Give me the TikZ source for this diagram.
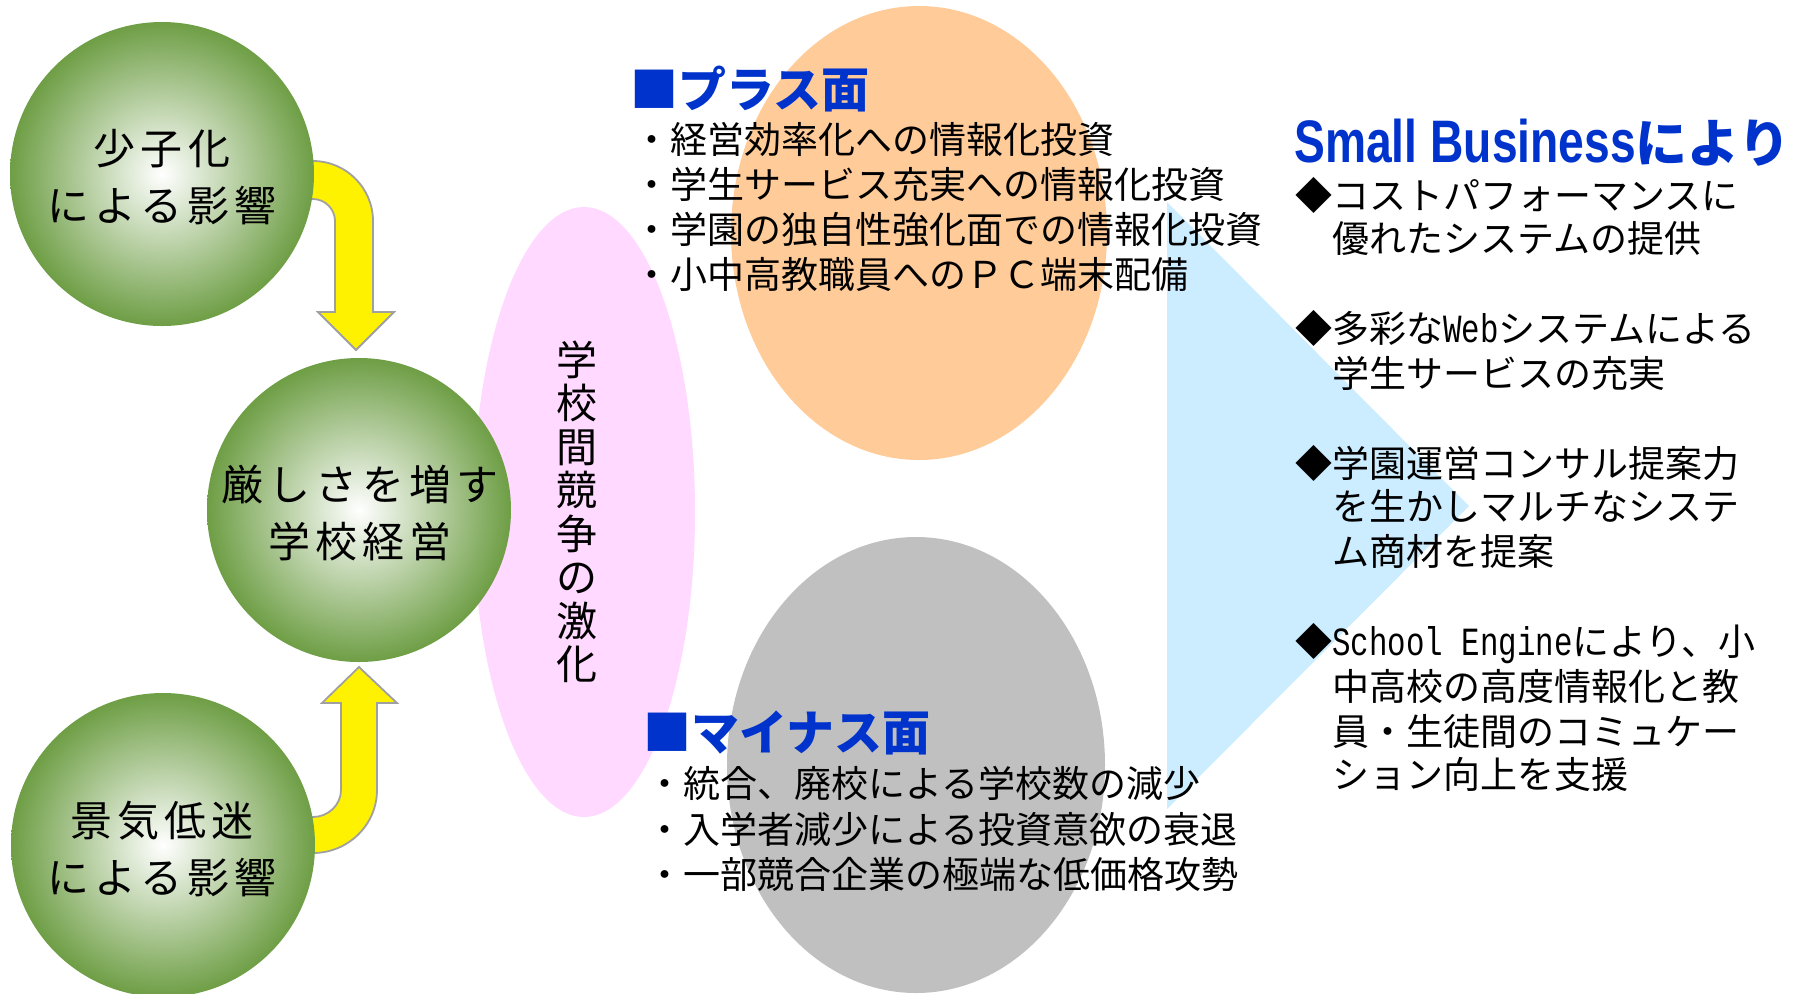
\documentclass[tikz,border=0pt]{standalone}
\usepackage{fontspec}
\usetikzlibrary{shapes.geometric}
\newfontfamily\jp{Noto Sans CJK JP}
\newfontfamily\jpls{Noto Sans CJK JP}[LetterSpace=12]
\newfontfamily\monoh{Liberation Mono}[FakeStretch=0.77]
\newfontfamily\latb{Liberation Sans}[FakeStretch=0.77]
\definecolor{ballgreen}{HTML}{6E9E45}
\definecolor{pinkblob}{HTML}{FFD9FF}
\definecolor{orangeblob}{HTML}{FFCC99}
\definecolor{grayblob}{HTML}{C0C0C0}
\definecolor{triblue}{HTML}{CCECFF}
\definecolor{headblue}{HTML}{0033CC}
\definecolor{arrowgray}{HTML}{A0A0A0}
\begin{document}
\begin{tikzpicture}[x=0.5pt,y=-0.5pt,
  ball/.style={circle, draw=none, shading=radial, inner color=white, outer color=ballgreen, minimum size=152pt, inner sep=0pt},
  blob/.style={ellipse, draw=none, inner sep=0pt},
  balltxt/.style={align=center, inner sep=0pt, font=\jpls\fontsize{21}{28.5}\selectfont},
  txt/.style={inner sep=0pt, anchor=base west, font=\jp\fontsize{18.5}{22}\selectfont},
  head/.style={inner sep=0pt, anchor=base west, text=headblue, font=\jp\bfseries\fontsize{24}{27}\selectfont},
  yarrow/.style={fill=yellow, draw=arrowgray, line width=0.9pt, line join=miter}]
\useasboundingbox (0,0) rectangle (1800,993);
% background shapes
\fill[triblue] (1167,202) -- (1469,506) -- (1167,809) -- cycle;
\node[blob, fill=orangeblob, minimum width=188pt, minimum height=227pt] (plus) at (919,233) {};
\node[blob, fill=grayblob, minimum width=189pt, minimum height=228pt] (minus) at (916,765) {};
\node[blob, fill=pinkblob, minimum width=111pt, minimum height=305pt] (comp) at (584,512) {};
% yellow block arrows
\draw[yarrow] (280,161) -- (313,161) .. controls (346,161) and (373,188) .. (373,221)
  -- (373,312) -- (394,312) -- (356,350) -- (318,312) -- (335,312) -- (335,221)
  .. controls (335,209) and (325,199) .. (313,199) -- (280,199) -- cycle;
\draw[yarrow] (280,853) -- (313,853) .. controls (348,853) and (377,825) .. (377,790)
  -- (377,703) -- (397,703) -- (359,667) -- (322,703) -- (341,703) -- (341,790)
  .. controls (341,805) and (328,817) .. (313,817) -- (280,817) -- cycle;
% green balls
\node[ball] (c1) at (162,174) {};
\node[ball] (c2) at (359,510) {};
\node[ball] (c3) at (163,845) {};
\node[balltxt] (t1) at (162,177) {少子化\\による影響};
\node[balltxt] (t2) at (360,513) {厳しさを増す\\学校経営};
\node[balltxt] (t3) at (162,849) {景気低迷\\による影響};
% vertical text
\node[align=center, inner sep=0pt, font=\jp\fontsize{20.5}{21.75}\selectfont] (vt) at (577,512)
  {学\\校\\間\\競\\争\\の\\激\\化};
% plus side
\node[head] (ph) at (630,107) {■プラス面};
\node[txt] (p1) at (633,153) {・経営効率化への情報化投資};
\node[txt] (p2) at (633,198) {・学生サービス充実への情報化投資};
\node[txt] (p3) at (633,243) {・学園の独自性強化面での情報化投資};
\node[txt] (p4) at (633,288) {・小中高教職員へのＰＣ端末配備};
% minus side
\node[head] (mh) at (643,750) {■マイナス面};
\node[txt] (m1) at (646,797) {・統合、廃校による学校数の減少};
\node[txt] (m2) at (646,843) {・入学者減少による投資意欲の衰退};
\node[txt] (m3) at (646,888) {・一部競合企業の極端な低価格攻勢};
% right side
\node[inner sep=0pt, anchor=base west, text=headblue] (sb) at (1294,162)
  {{\latb\bfseries\fontsize{30}{32}\selectfont Small Business}{\jp\bfseries\fontsize{26}{28}\selectfont により}};
\node[txt] (r1) at (1295,209) {◆コストパフォーマンスに};
\node[txt] (r2) at (1332,252) {優れたシステムの提供};
\node[txt] (r3) at (1295,342) {◆多彩な{\monoh\fontsize{20}{22}\selectfont Web}システムによる};
\node[txt] (r4) at (1332,387) {学生サービスの充実};
\node[txt] (r5) at (1295,477) {◆学園運営コンサル提案力};
\node[txt] (r6) at (1332,520) {を生かしマルチなシステ};
\node[txt] (r7) at (1332,565) {ム商材を提案};
\node[txt] (r8) at (1295,655) {◆{\monoh\fontsize{20}{22}\selectfont School Engine}により、小};
\node[txt] (r9) at (1332,700) {中高校の高度情報化と教};
\node[txt] (r10) at (1332,745) {員・生徒間のコミュケー};
\node[txt] (r11) at (1332,788) {ション向上を支援};
\end{tikzpicture}
\end{document}
